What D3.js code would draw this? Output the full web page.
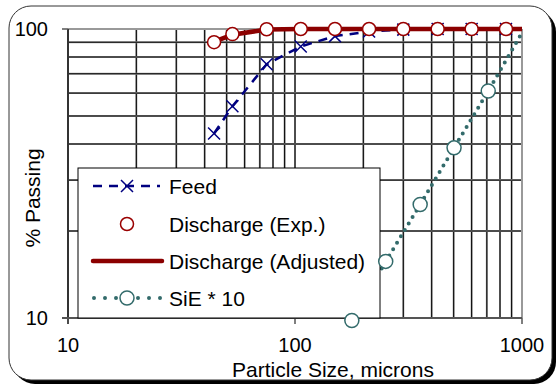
<!DOCTYPE html>
<html>
<head>
<meta charset="utf-8">
<script src="https://cdn.jsdelivr.net/npm/d3@7/dist/d3.min.js"></script>
<style>
  body { margin: 0; background: #fff; }
  svg text { font-family: "Liberation Sans", Arial, sans-serif; fill: #000; }
</style>
</head>
<body>
<svg id="chart" width="557" height="390"></svg>
<script>
// sieve sizes (microns)
let sizes = [44, 53, 75, 106, 150, 212, 300, 425, 600, 850]
let feed = [43.5, 54, 75.5, 87, 94.5, 98, 99.5, 100, 100, 100]
let dischargeExp = [90, 96, 99.8, 100, 100, 100, 100, 100, 100, 100]
let adjSizes = [44, 53, 75, 106, 150, 212, 300, 425, 600, 850, 1000]
let dischargeAdj = [90.5, 95.5, 99.6, 100, 100, 100, 100, 100, 100, 100, 100]
// SiE * 10 at mid sizes
let sieSizes = [178, 251, 356, 502, 710, 1010]
let sie = [9.8, 15.7, 24.7, 38.8, 61, 98.5]

let xTicks = [10, 100, 1000]
let yTicks = [10, 100]
let xGrid = [20, 30, 40, 50, 60, 70, 80, 90, 100, 200, 300, 400, 500, 600, 700, 800, 900]
let yGrid = [20, 30, 40, 50, 60, 70, 80, 90]

let legendNames = ['Feed', 'Discharge (Exp.)', 'Discharge (Adjusted)', 'SiE * 10']

let svg = d3.select('#chart')

let pLeft = 68, pRight = 522, pTop = 29, pBottom = 318

let x = d3.scaleLog().domain([10, 1000]).range([pLeft, pRight])
let y = d3.scaleLog().domain([10, 100]).range([pBottom, pTop])

// frame with shadow
svg.append('rect').attr('x', 13).attr('y', 10).attr('width', 543).attr('height', 374)
  .attr('rx', 22).attr('fill', '#000')
svg.append('rect').attr('x', 9).attr('y', 6).attr('width', 543).attr('height', 374)
  .attr('rx', 22).attr('fill', '#fff').attr('stroke', '#333').attr('stroke-width', 1)

svg.append('defs').append('clipPath').attr('id', 'plotClip')
  .append('rect').attr('x', pLeft).attr('y', pTop - 4).attr('width', pRight - pLeft).attr('height', pBottom - pTop + 4)

// grid
let grid = svg.append('g')
grid.selectAll('.vg').data(xGrid).enter().append('line')
  .attr('x1', d => x(d)).attr('x2', d => x(d)).attr('y1', pTop).attr('y2', pBottom)
  .attr('stroke', '#999').attr('stroke-width', 2)
grid.selectAll('.vg2').data(xGrid).enter().append('line')
  .attr('x1', d => x(d)).attr('x2', d => x(d)).attr('y1', pTop).attr('y2', pBottom)
  .attr('stroke', '#000').attr('stroke-width', 1)
grid.selectAll('.hg').data(yGrid).enter().append('line')
  .attr('y1', d => y(d)).attr('y2', d => y(d)).attr('x1', pLeft).attr('x2', pRight)
  .attr('stroke', '#999').attr('stroke-width', 2)
grid.selectAll('.hg2').data(yGrid).enter().append('line')
  .attr('y1', d => y(d)).attr('y2', d => y(d)).attr('x1', pLeft).attr('x2', pRight)
  .attr('stroke', '#000').attr('stroke-width', 1)

// plot border
svg.append('line').attr('x1', pLeft).attr('x2', pRight).attr('y1', pTop).attr('y2', pTop)
  .attr('stroke', '#999').attr('stroke-width', 2)
svg.append('line').attr('x1', pRight).attr('x2', pRight).attr('y1', pTop).attr('y2', pBottom)
  .attr('stroke', '#999').attr('stroke-width', 2)

// axes
svg.append('line').attr('x1', pLeft).attr('x2', pLeft).attr('y1', pTop).attr('y2', pBottom + 6)
  .attr('stroke', '#333').attr('stroke-width', 2)
svg.append('line').attr('x1', pLeft - 6).attr('x2', pRight).attr('y1', pBottom).attr('y2', pBottom)
  .attr('stroke', '#555').attr('stroke-width', 2)
svg.selectAll('.xt').data(xTicks).enter().append('line')
  .attr('x1', d => x(d)).attr('x2', d => x(d)).attr('y1', pBottom).attr('y2', pBottom + 6)
  .attr('stroke', '#555').attr('stroke-width', 1.5)
svg.selectAll('.yt').data(yTicks).enter().append('line')
  .attr('y1', d => y(d)).attr('y2', d => y(d)).attr('x1', pLeft - 6).attr('x2', pLeft)
  .attr('stroke', '#555').attr('stroke-width', 1.5)

svg.selectAll('.xl').data(xTicks).enter().append('text')
  .attr('x', d => x(d)).attr('y', 352).attr('text-anchor', 'middle')
  .style('font-size', '20px').text(d => d)
svg.selectAll('.yl').data(yTicks).enter().append('text')
  .attr('x', 48).attr('y', d => y(d) + 7).attr('text-anchor', 'end')
  .style('font-size', '20px').text(d => d)

svg.append('text').attr('x', 333).attr('y', 377).attr('text-anchor', 'middle')
  .style('font-size', '21px').text('Particle Size, microns')
svg.append('text').attr('transform', 'translate(40,198) rotate(-90)').attr('text-anchor', 'middle')
  .style('font-size', '21px').text('% Passing')

let series = svg.append('g').attr('clip-path', 'url(#plotClip)')
let line = d3.line().x(d => x(d[0])).y(d => y(d[1]))

let xMark = function (g, cx, cy) {
  g.append('path')
    .attr('d', `M${cx - 6},${cy - 6}L${cx + 6},${cy + 6}M${cx - 6},${cy + 6}L${cx + 6},${cy - 6}`)
    .attr('stroke', '#000080').attr('stroke-width', 1.5).attr('fill', 'none')
}

// feed
let feedPts = sizes.map((s, i) => [s, feed[i]])
series.append('path').attr('d', line(feedPts))
  .attr('fill', 'none').attr('stroke', '#000080').attr('stroke-width', 2.5)
  .attr('stroke-dasharray', '9 7')
feedPts.forEach(p => xMark(svg, x(p[0]), y(p[1])))

// discharge adjusted
series.append('path').attr('d', line(adjSizes.map((s, i) => [s, dischargeAdj[i]])))
  .attr('fill', 'none').attr('stroke', '#8B0000').attr('stroke-width', 4.5)

// discharge exp
svg.selectAll('.dexp').data(sizes).enter().append('circle')
  .attr('cx', d => x(d)).attr('cy', (d, i) => y(dischargeExp[i])).attr('r', 6.5)
  .attr('fill', '#fff').attr('stroke', '#990000').attr('stroke-width', 1.5)

// SiE * 10
series.append('path').attr('d', line(sieSizes.map((s, i) => [s, sie[i]])))
  .attr('fill', 'none').attr('stroke', '#336B6B').attr('stroke-width', 4)
  .attr('stroke-linecap', 'round').attr('stroke-dasharray', '0 7.5')

// legend
let lg = svg.append('g')
lg.append('rect').attr('x', 78).attr('y', 168).attr('width', 302).attr('height', 150)
  .attr('fill', '#fff').attr('stroke', '#000').attr('stroke-width', 1)
let rows = [186, 224, 261, 298]
lg.selectAll('text').data(legendNames).enter().append('text')
  .attr('x', 169).attr('y', (d, i) => rows[i] + 7.5).style('font-size', '21px').text(d => d)
lg.append('line').attr('x1', 93).attr('x2', 160).attr('y1', rows[0]).attr('y2', rows[0])
  .attr('stroke', '#000080').attr('stroke-width', 2.5).attr('stroke-dasharray', '9 7')
xMark(lg, 127, rows[0])
lg.append('circle').attr('cx', 127).attr('cy', rows[1]).attr('r', 6.5)
  .attr('fill', '#fff').attr('stroke', '#990000').attr('stroke-width', 1.5)
lg.append('line').attr('x1', 93).attr('x2', 162).attr('y1', rows[2]).attr('y2', rows[2])
  .attr('stroke', '#8B0000').attr('stroke-width', 4.5).attr('stroke-linecap', 'round')
lg.append('line').attr('x1', 94).attr('x2', 162).attr('y1', rows[3]).attr('y2', rows[3])
  .attr('stroke', '#336B6B').attr('stroke-width', 4).attr('stroke-linecap', 'round')
  .attr('stroke-dasharray', '0 11')
lg.append('circle').attr('cx', 127).attr('cy', rows[3]).attr('r', 7)
  .attr('fill', '#fff').attr('stroke', '#336B6B').attr('stroke-width', 1.5)

// SiE markers on top
svg.selectAll('.siem').data(sieSizes.filter(d => d <= 1000)).enter().append('circle')
  .attr('cx', d => x(d)).attr('cy', (d, i) => y(sie[i])).attr('r', 7)
  .attr('fill', '#fff').attr('stroke', '#336B6B').attr('stroke-width', 1.5)
</script>
</body>
</html>
